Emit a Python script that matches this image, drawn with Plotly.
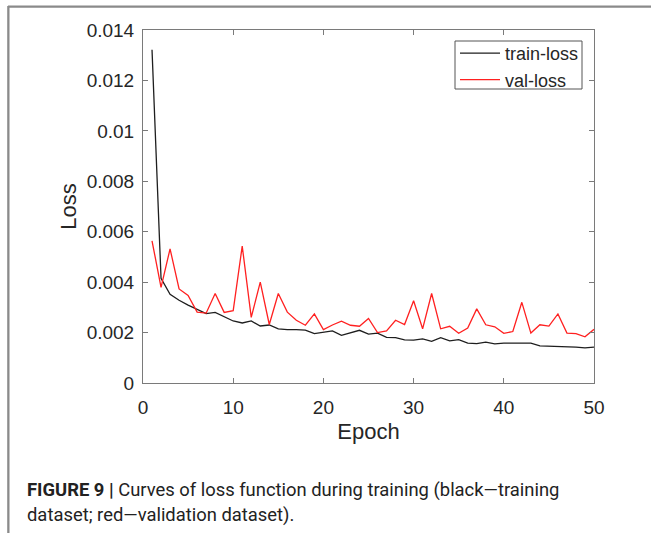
import plotly.graph_objects as go

epochs = list(range(1, 51))
train_loss = [0.01322, 0.00415, 0.00352, 0.00328, 0.00309, 0.00291, 0.00275, 0.00280, 0.00262, 0.00246,
              0.00238, 0.00246, 0.00226, 0.00230, 0.00215, 0.00212, 0.00212, 0.00210, 0.00196, 0.00200,
              0.00207, 0.00189, 0.00199, 0.00209, 0.00194, 0.00198, 0.00181, 0.00180, 0.00171, 0.00170,
              0.00175, 0.00165, 0.00180, 0.00167, 0.00172, 0.00158, 0.00156, 0.00162, 0.00155, 0.00158,
              0.00158, 0.00158, 0.00158, 0.00147, 0.00146, 0.00144, 0.00144, 0.00142, 0.00139, 0.00142]
val_loss = [0.00564, 0.00379, 0.00532, 0.00373, 0.00347, 0.00281, 0.00277, 0.00355, 0.00280, 0.00287,
            0.00543, 0.00260, 0.00400, 0.00232, 0.00355, 0.00281, 0.00249, 0.00229, 0.00274, 0.00212,
            0.00230, 0.00245, 0.00229, 0.00225, 0.00256, 0.00200, 0.00207, 0.00249, 0.00232, 0.00326,
            0.00215, 0.00355, 0.00215, 0.00225, 0.00197, 0.00218, 0.00294, 0.00231, 0.00223, 0.00197,
            0.00204, 0.00320, 0.00198, 0.00231, 0.00226, 0.00274, 0.00198, 0.00196, 0.00183, 0.00213]

x_ticks = [0, 10, 20, 30, 40, 50]
y_ticks = [0, 0.002, 0.004, 0.006, 0.008, 0.01, 0.012, 0.014]
y_tick_labels = ["0", "0.002", "0.004", "0.006", "0.008", "0.01", "0.012", "0.014"]

FONT = "Liberation Sans, Arial, Helvetica, sans-serif"
AXIS_COL = "#7a7a7a"
TEXT_COL = "#262626"

fig = go.Figure()
fig.add_trace(go.Scatter(x=epochs, y=train_loss, mode="lines", name="train-loss",
                         line=dict(color="#1e1e1e", width=1.3)))
fig.add_trace(go.Scatter(x=epochs, y=val_loss, mode="lines", name="val-loss",
                         line=dict(color="#ff2020", width=1.3)))

L, R, T, B = 143, 57, 30, 150
W, H = 651, 533
pw, ph = W - L - R, H - T - B

def px(x):
    return (x - L) / pw

def py(y):
    return (H - B - y) / ph

axis_common = dict(showline=True, linecolor=AXIS_COL, linewidth=1, mirror="ticks",
                   ticks="inside", ticklen=5, tickcolor=AXIS_COL, tickwidth=1,
                   showgrid=False, zeroline=False,
                   tickfont=dict(family=FONT, size=19, color=TEXT_COL))

fig.update_layout(
    width=W, height=H,
    margin=dict(l=L, r=R, t=T, b=B, autoexpand=False),
    paper_bgcolor="white", plot_bgcolor="white",
    xaxis=dict(range=[0, 50], tickvals=x_ticks, ticklabelstandoff=7, **axis_common,
               title=dict(text="Epoch", font=dict(family=FONT, size=22, color=TEXT_COL), standoff=6)),
    yaxis=dict(range=[0, 0.014], tickvals=y_ticks, ticktext=y_tick_labels, ticklabelstandoff=4,
               **axis_common,
               title=dict(text="Loss", font=dict(family=FONT, size=22, color=TEXT_COL), standoff=3)),
    legend=dict(x=px(455), y=py(35), xanchor="left", yanchor="top",
                bgcolor="rgba(0,0,0,0)", borderwidth=0,
                font=dict(family=FONT, size=18, color=TEXT_COL),
                tracegroupgap=0, itemwidth=40),
    showlegend=True,
)

# legend box
fig.add_shape(type="rect", xref="paper", yref="paper", x0=px(455), x1=px(582), y0=py(41), y1=py(89),
              line=dict(color="#555555", width=1), fillcolor="white", layer="below")

# outer frame (journal figure box, cropped on right/bottom)
fig.add_shape(type="line", xref="paper", yref="paper", x0=px(8), x1=px(651), y0=py(6.5), y1=py(6.5),
              line=dict(color="#8a8a8a", width=2))
fig.add_shape(type="line", xref="paper", yref="paper", x0=px(8), x1=px(8), y0=py(6), y1=py(533),
              line=dict(color="#8a8a8a", width=1.6))
fig.add_annotation(xref="paper", yref="paper", x=px(8), y=py(6), xanchor="left", yanchor="top",
                   showarrow=False, text=" ", width=700, height=600,
                   bordercolor="#8a8a8a", borderwidth=1.5, borderpad=0)

CAP_FONT = "Liberation Sans Narrow, Roboto, Arial, sans-serif"
fig.add_annotation(xref="paper", yref="paper", x=px(25), y=py(490), xanchor="left", yanchor="middle",
                   showarrow=False, align="left",
                   text="<b>FIGURE 9 |</b> Curves of loss function during training (black\u2014training",
                   font=dict(family=CAP_FONT, size=18.4, color="#222222"))
fig.add_annotation(xref="paper", yref="paper", x=px(25), y=py(515), xanchor="left", yanchor="middle",
                   showarrow=False, align="left",
                   text="dataset; red\u2014validation dataset).",
                   font=dict(family=CAP_FONT, size=18.4, color="#222222"))

fig.write_html("out.html", config={"displayModeBar": False},
               post_script="document.body.style.margin='0px';")
